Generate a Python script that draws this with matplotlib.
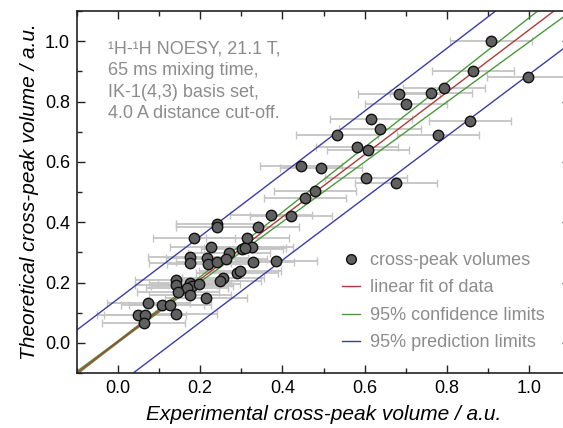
#!/usr/bin/env python3

import numpy as np
import matplotlib.pyplot as plt
from matplotlib.ticker import MultipleLocator
from matplotlib.lines import Line2D

# cross-peak volumes
exp_vol = [0.907, 0.864, 0.998, 0.684, 0.761, 0.793, 0.701, 0.616, 0.856, 0.637,
           0.532, 0.778, 0.582, 0.609, 0.446, 0.494, 0.604, 0.677, 0.479, 0.455,
           0.421, 0.372, 0.341, 0.240, 0.240, 0.184, 0.315, 0.226, 0.270, 0.326,
           0.302, 0.309, 0.174, 0.176, 0.217, 0.220, 0.240, 0.262, 0.329, 0.385,
           0.140, 0.140, 0.176, 0.179, 0.197, 0.167, 0.146, 0.176, 0.255, 0.249,
           0.290, 0.297, 0.213, 0.074, 0.108, 0.127, 0.049, 0.066, 0.062, 0.140]
theo_vol = [1.001, 0.901, 0.881, 0.826, 0.828, 0.844, 0.791, 0.741, 0.734, 0.709,
            0.688, 0.689, 0.649, 0.638, 0.586, 0.580, 0.546, 0.529, 0.503, 0.481,
            0.421, 0.425, 0.383, 0.394, 0.383, 0.348, 0.348, 0.317, 0.297, 0.317,
            0.310, 0.313, 0.284, 0.266, 0.281, 0.262, 0.269, 0.277, 0.267, 0.271,
            0.208, 0.192, 0.198, 0.189, 0.195, 0.183, 0.168, 0.159, 0.215, 0.204,
            0.232, 0.238, 0.150, 0.131, 0.126, 0.126, 0.093, 0.093, 0.067, 0.097]
exp_err = 0.1

# fit parameters
fit_slope = 1.033
fit_icept = 0.004
x_pivot = 0.0
conf_se0 = 0.003
conf_se1 = 0.040
pred_s = 0.142

notes = ["\u00b9H-\u00b9H NOESY, 21.1 T,",
         "65 ms mixing time,",
         "IK-1(4,3) basis set,",
         "4.0 A distance cut-off."]

plt.rcParams['font.family'] = ['Liberation Sans', 'DejaVu Sans']

fig = plt.figure(figsize=(5.63, 4.28), dpi=100)
ax = fig.add_axes([77 / 563, 55 / 428, 493 / 563, 362 / 428])

ax.errorbar(exp_vol, theo_vol, xerr=exp_err, fmt='none', ecolor='#c4c4c4',
            elinewidth=1.3, capsize=3, capthick=1.0, zorder=1)

xx = np.linspace(-0.1, 1.1, 200)
yy = fit_slope * xx + fit_icept
conf = np.sqrt(conf_se0 ** 2 + (conf_se1 * (xx - x_pivot)) ** 2)
pred = np.sqrt(pred_s ** 2 + conf ** 2)

red = '#b03a3a'
green = '#4a9a3a'
blue = '#3c3ca8'
gray = '#8c8c8c'

ax.plot(xx, yy + pred, color=blue, lw=1.0, zorder=2)
ax.plot(xx, yy - pred, color=blue, lw=1.0, zorder=2)
ax.plot(xx, yy + conf, color=green, lw=1.0, zorder=2)
ax.plot(xx, yy - conf, color=green, lw=1.0, zorder=2)
ax.plot(xx, yy, color=red, lw=1.0, zorder=2)

ax.plot(exp_vol, theo_vol, 'o', ms=7.5, mfc='#606060', mec='#111111', mew=1.0, zorder=3)

ax.set_xlim(-0.1, 1.1)
ax.set_ylim(-0.1, 1.1)
ax.xaxis.set_minor_locator(MultipleLocator(0.1))
ax.yaxis.set_minor_locator(MultipleLocator(0.1))
ax.set_xticks(np.arange(0.0, 1.01, 0.2))
ax.set_yticks(np.arange(0.0, 1.01, 0.2))
ax.xaxis.set_major_formatter(lambda v, p: "%.1f" % v)
ax.yaxis.set_major_formatter(lambda v, p: "%.1f" % v)
ax.tick_params(which='both', direction='in', top=True, right=True, width=1.0,
               labelsize=13, color='#222222')
ax.tick_params(which='major', length=6, pad=5)
ax.tick_params(which='minor', length=3.6)
for sp in ax.spines.values():
    sp.set_linewidth(1.2)
    sp.set_color('#222222')

ax.set_xlabel('Experimental cross-peak volume / a.u.', fontsize=15, style='italic', labelpad=6)
ax.set_ylabel('Theoretical cross-peak volume / a.u.', fontsize=15, style='italic', labelpad=4)

fig.text(108 / 563, 1 - 40 / 428, "\n".join(notes), fontsize=13, color=gray,
         va='top', ha='left', linespacing=1.37)

handles = [Line2D([], [], ls='none', marker='o', ms=7, mfc='#606060', mec='#111111'),
           Line2D([], [], color=red, lw=1.0),
           Line2D([], [], color=green, lw=1.0),
           Line2D([], [], color=blue, lw=1.0)]
labels = ['cross-peak volumes', 'linear fit of data',
          '95% confidence limits', '95% prediction limits']
ax.legend(handles, labels, loc='upper left', bbox_to_anchor=(342 / 563, 1 - 252 / 428),
          bbox_transform=fig.transFigure, frameon=False, fontsize=13, labelcolor=gray,
          handlelength=1.0, handletextpad=0.55, labelspacing=0.58, borderpad=0,
          borderaxespad=0)

fig.savefig('out.png', dpi=100)
